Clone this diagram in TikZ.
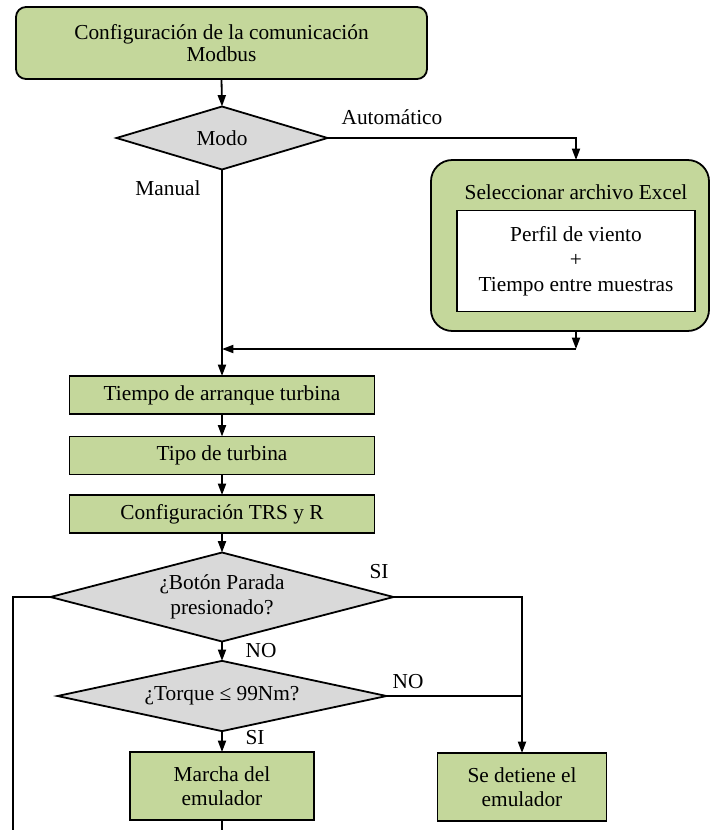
\documentclass[tikz,border=0pt]{standalone}
\usepackage{fontspec}
\setmainfont{Liberation Serif}
\usetikzlibrary{arrows.meta,shapes.geometric}
\definecolor{boxgreen}{HTML}{C4D79B}
\definecolor{diagray}{HTML}{D9D9D9}
\def\pxu{0.75pt}
\begin{document}
\begin{tikzpicture}[x=0.75pt,y=-0.75pt,line width=1.35pt,
  every node/.style={font=\fontsize{16pt}{18pt}\selectfont,inner sep=0pt,outer sep=0pt,align=center},
  procbox/.style={draw,fill=boxgreen},
  decision/.style={diamond,draw,fill=diagray,aspect=3},
  arr/.style={-{Triangle[length=8.5pt,width=6pt]}}]
\useasboundingbox (0,0) rectangle (710,830);

% nodes
\node[procbox,rounded corners=7.5pt,minimum width=411*\pxu,minimum height=72*\pxu,
      font=\fontsize{16pt}{16.5pt}\selectfont] (top) at (221.5,43) {Configuración de la comunicación\\Modbus};
\node[decision,minimum width=211*\pxu,minimum height=63*\pxu] (modo) at (222,138) {Modo};
\node[procbox,rounded corners=16pt,minimum width=278*\pxu,minimum height=171*\pxu] (excel) at (570,245.5) {};
\node (exceltitle) at (576,192) {Seleccionar archivo Excel};
\node[draw,fill=white,minimum width=238*\pxu,minimum height=101*\pxu,
      font=\fontsize{16pt}{18.75pt}\selectfont] (perfil) at (576,261) {Perfil de viento\\+\\Tiempo entre muestras};
\node[procbox,minimum width=305*\pxu,minimum height=38*\pxu] (tiempo) at (222,395) {Tiempo de arranque turbina};
\node[procbox,minimum width=305*\pxu,minimum height=38*\pxu] (tipo) at (222,455.5) {Tipo de turbina};
\node[procbox,minimum width=305*\pxu,minimum height=38*\pxu] (config) at (222,514) {Configuración TRS y R};
\node[decision,minimum width=343*\pxu,minimum height=89*\pxu,
      font=\fontsize{16pt}{18.75pt}\selectfont] (boton) at (222,597) {¿Botón Parada\\presionado?};
\node[decision,minimum width=329*\pxu,minimum height=64*\pxu] (torque) at (222,696) {¿Torque ≤ 99Nm?};
\node[procbox,minimum width=184*\pxu,minimum height=68*\pxu] (marcha) at (222,786) {Marcha del\\emulador};
\node[procbox,minimum width=169*\pxu,minimum height=68*\pxu] (sede) at (522,787) {Se detiene el\\emulador};

% labels
\node (lauto) at (392,117) {Automático};
\node (lmanual) at (168,188) {Manual};
\node (lsi1) at (379,572) {SI};
\node (lno1) at (261,651) {NO};
\node (lno2) at (408,682) {NO};
\node (lsi2) at (255,738) {SI};

% coordinates
\coordinate (j1) at (576,349);
\coordinate (j2) at (222,349);
\coordinate (bl) at (13,830);

% connectors
\draw[arr] (top.south) -- (modo.north);
\draw[arr] (modo.east) -| (perfil.north |- excel.north);
\draw[arr] (modo.south) -- (tiempo.north);
\draw[arr] (excel.south -| j1) -- (j1);
\draw[arr] (j1) -- (j2);
\draw[arr] (tiempo.south) -- (tipo.north);
\draw[arr] (tipo.south) -- (config.north);
\draw[arr] (config.south) -- (boton.north);
\draw[arr] (boton.south) -- (torque.north);
\draw[arr] (torque.south) -- (marcha.north);
\draw[arr] (boton.east) -| (sede.north);
\draw (torque.east) -- (torque.east -| sede.north);
\draw (boton.west) -| (bl);
\draw (marcha.south) -- (marcha.south |- bl);
\end{tikzpicture}
\end{document}
